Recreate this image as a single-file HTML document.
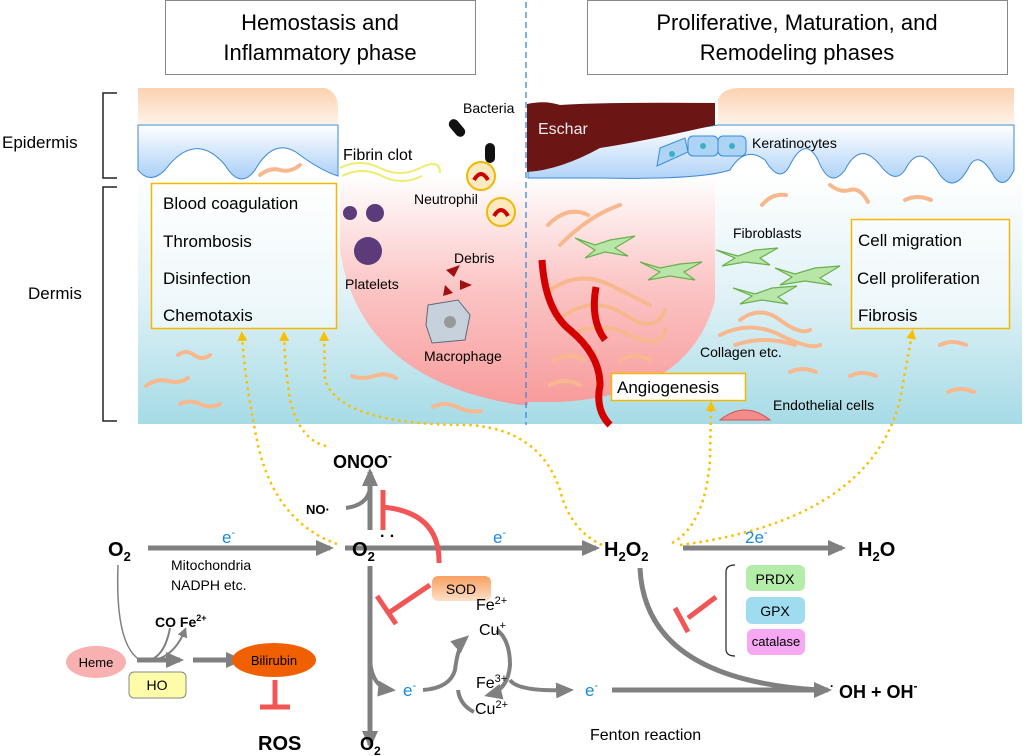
<!DOCTYPE html>
<html><head><meta charset="utf-8"><style>
html,body{margin:0;padding:0;background:#fff;}
svg{display:block;font-family:"Liberation Sans",sans-serif;}
</style></head><body>
<svg width="1024" height="756" viewBox="0 0 1024 756" xmlns="http://www.w3.org/2000/svg">
<defs>
<linearGradient id="derm" x1="0" y1="0" x2="0" y2="1"><stop offset="0" stop-color="#ffffff"/><stop offset="0.5" stop-color="#dff1f6"/><stop offset="1" stop-color="#a6dbe6"/></linearGradient>
<linearGradient id="epi" x1="0" y1="0" x2="0" y2="1"><stop offset="0" stop-color="#ffffff"/><stop offset="1" stop-color="#a9cff7"/></linearGradient>
<linearGradient id="cor" x1="0" y1="0" x2="0" y2="1"><stop offset="0" stop-color="#fbd2b0"/><stop offset="1" stop-color="#fff2e8"/></linearGradient>
<linearGradient id="wound" x1="0" y1="0" x2="0" y2="1"><stop offset="0" stop-color="#ffffff"/><stop offset="0.5" stop-color="#fbc4c4"/><stop offset="1" stop-color="#f89c9c"/></linearGradient>
<linearGradient id="sod" x1="0" y1="0" x2="0" y2="1"><stop offset="0" stop-color="#f7a060"/><stop offset="1" stop-color="#fde0c8"/></linearGradient>
<marker id="ga" markerWidth="10" markerHeight="10" refX="7" refY="5" orient="auto" markerUnits="userSpaceOnUse"><path d="M0,0 L10,5 L0,10 z" fill="#808080"/></marker>
<marker id="gb" markerWidth="18" markerHeight="18" refX="14" refY="9" orient="auto" markerUnits="userSpaceOnUse"><path d="M0,1 L18,9 L0,17 z" fill="#808080"/></marker>
<marker id="ya" markerWidth="10" markerHeight="10" refX="5" refY="5" orient="auto" markerUnits="userSpaceOnUse"><path d="M0,0 L10,5 L0,10 z" fill="#f9c000"/></marker>
</defs>

<rect x="165.5" y="0.5" width="310" height="74" fill="#fff" stroke="#888"/>
<text x="320" y="30" font-size="22" text-anchor="middle">Hemostasis and</text>
<text x="320" y="60" font-size="22" text-anchor="middle">Inflammatory phase</text>
<rect x="587.5" y="0.5" width="420" height="74" fill="#fff" stroke="#888"/>
<text x="797" y="30" font-size="22" text-anchor="middle">Proliferative, Maturation, and</text>
<text x="797" y="60" font-size="22" text-anchor="middle">Remodeling phases</text>

<rect x="138" y="175" width="884" height="249" fill="url(#derm)"/>
<path d="M340,175 L340,250 Q360,380 520,405 L528,405 L528,175 Z" fill="url(#wound)"/>
<path d="M528,175 L715,175 L715,300 Q690,395 560,402 L528,402 Z" fill="url(#wound)"/>
<path d="M138,88 L325,88 Q338,92 338,108 L338,124 L138,124 Z" fill="url(#cor)"/>
<path d="M718,124 L718,100 Q722,88 740,88 L1014,88 L1014,124 Z" fill="url(#cor)"/>
<path d="M138,125 L338,125 L338,176 Q320,170 300,155 Q275,135 255,170 Q240,190 225,165 Q195,130 165,170 Q150,185 138,170 Z" fill="url(#epi)" stroke="#3a8ad8" stroke-width="1"/>
<path d="M718,125 L1014,125 L1014,170 Q1005,190 995,178 Q980,150 970,165 Q955,195 940,175 Q920,140 905,170 Q895,185 880,165 Q860,140 845,170 Q830,190 818,160 Q805,135 790,165 Q780,185 765,160 Q745,145 730,170 Q700,180 600,178 L528,178 L528,150 Q600,150 650,135 Z" fill="url(#epi)" stroke="#3a8ad8" stroke-width="1"/>
<path d="M527,104 Q545,100 560,105 Q600,102 715,103 L715,125 Q650,140 600,148 Q560,170 527,172 Z" fill="#6b1515"/>
<text x="538" y="134" font-size="16" fill="#ececec">Eschar</text>
<g fill="#aed4f5" stroke="#3a8ad8" stroke-width="1">
<path d="M660,148 L685,138 L688,152 L657,166 Z"/><rect x="688" y="136" width="30" height="20" rx="5"/><rect x="718" y="136" width="28" height="20" rx="5"/>
</g>
<g fill="#3ab0c0"><circle cx="672" cy="154" r="3"/><circle cx="703" cy="146" r="3"/><circle cx="732" cy="146" r="3"/></g>
<text x="752" y="148" font-size="14">Keratinocytes</text>

<line x1="526" y1="2" x2="526" y2="425" stroke="#3a8ad8" stroke-width="1.3" stroke-dasharray="6,4"/>

<path d="M117,93 L103,93 L103,178 L117,178" fill="none" stroke="#222" stroke-width="1.5"/>
<path d="M117,187 L103,187 L103,421 L117,421" fill="none" stroke="#222" stroke-width="1.5"/>
<text x="2" y="148" font-size="17">Epidermis</text>
<text x="28" y="299" font-size="17">Dermis</text>

<g fill="none" stroke="#f7b88e" stroke-width="4" stroke-linecap="round">
<path d="M260,175 q10,-8 20,-5 t20,-5"/>
<path d="M178,355 q8,-6 16,0 t16,0"/><path d="M146,386 q10,-8 22,-5 t20,-3"/><path d="M180,404 q10,-5 20,0 t20,0"/>
<path d="M352,376 q10,4 22,0 t22,2"/><path d="M433,407 q12,-6 24,0 t24,4"/>
<path d="M762,205 q10,-12 24,-10"/><path d="M830,185 q10,8 20,5 t18,12"/><path d="M905,200 q12,-6 26,0"/>
<path d="M940,345 q12,-6 26,0"/><path d="M948,392 q12,-6 26,0"/><path d="M790,372 q12,-6 26,0"/><path d="M850,376 q12,-6 26,0"/>
<path d="M740,320 q20,-15 40,0 t30,10"/><path d="M720,335 q30,-15 60,0 t40,10"/><path d="M735,345 q30,-10 60,0"/>
<path d="M548,225 q20,-20 40,-10"/><path d="M560,245 q30,-30 60,-40"/><path d="M550,290 q30,-20 60,-5 t40,20"/>
<path d="M565,315 q30,-20 60,0 t40,-5"/><path d="M570,335 q30,-15 60,0 t35,-5"/><path d="M554,360 q15,-8 30,0"/><path d="M550,385 q15,-8 30,0"/><path d="M620,360 q15,-8 30,0"/>
</g>
<g fill="#b8e6a8" stroke="#6ab04c" stroke-width="1.2">
<path d="M575,238 L595,245 L610,240 L635,236 L615,248 L628,256 L605,252 L585,258 L595,250 Z"/>
<path d="M640,262 L660,268 L680,264 L702,262 L684,272 L695,280 L670,276 L648,280 L660,272 Z"/>
<path d="M716,250 L738,256 L755,250 L778,248 L760,258 L770,265 L745,262 L722,266 L735,258 Z"/>
<path d="M775,268 L795,274 L815,268 L840,266 L820,278 L832,285 L805,281 L780,285 L792,277 Z"/>
<path d="M733,288 L755,294 L772,288 L797,286 L778,297 L788,304 L762,300 L740,304 L752,296 Z"/>
</g>
<text x="733" y="238" font-size="14">Fibroblasts</text>
<text x="700" y="357" font-size="14">Collagen etc.</text>
<path d="M542,260 Q545,310 570,330 Q600,355 600,385 Q595,410 610,425" fill="none" stroke="#d40000" stroke-width="7"/>
<path d="M596,287 Q590,320 605,340" fill="none" stroke="#d40000" stroke-width="7"/>
<path d="M720,420 Q745,400 770,420 Z" fill="#f48c8c" stroke="#d85050"/>
<text x="773" y="410" font-size="14">Endothelial cells</text>

<path d="M340,168 q20,-10 40,0 t40,0 t20,5 M342,176 q20,-10 40,0 t40,0" fill="none" stroke="#f0ec70" stroke-width="2"/>
<text x="343" y="160" font-size="16">Fibrin clot</text>
<g fill="#5b3b7a"><circle cx="350" cy="213" r="7"/><circle cx="375" cy="213" r="9"/><circle cx="368" cy="251" r="14"/></g>
<text x="345" y="289" font-size="14">Platelets</text>
<g fill="#111"><rect x="452" y="118" width="10" height="20" rx="5" transform="rotate(-40 457 128)"/><rect x="485" y="143" width="10" height="20" rx="5"/></g>
<text x="463" y="113" font-size="14">Bacteria</text>
<circle cx="481" cy="176" r="14" fill="#fde9c0" stroke="#f0b800" stroke-width="2"/><path d="M474,180 q7,-12 14,0" stroke="#c00" stroke-width="4" fill="none"/>
<circle cx="501" cy="212" r="14" fill="#fde9c0" stroke="#f0b800" stroke-width="2"/><path d="M494,216 q7,-12 14,0" stroke="#c00" stroke-width="4" fill="none"/>
<text x="414" y="204" font-size="14">Neutrophil</text>
<text x="454" y="263" font-size="14">Debris</text>
<g fill="#a01010"><path d="M446,270 l14,-5 l-6,12z"/><path d="M460,280 l12,5 l-12,5z"/><path d="M445,285 l8,8 l-10,3z"/></g>
<path d="M428,305 L458,300 L470,315 L465,340 L432,343 L426,325 Z" fill="#c6d1dc" stroke="#5a6a7a"/><circle cx="450" cy="322" r="6" fill="#999"/>
<text x="424" y="361" font-size="14">Macrophage</text>

<rect x="151.5" y="183.5" width="185" height="145" fill="rgba(255,255,255,0.5)" stroke="#f5b800" stroke-width="1.5"/>
<g font-size="17"><text x="163" y="209">Blood coagulation</text><text x="163" y="247">Thrombosis</text><text x="163" y="284">Disinfection</text><text x="163" y="321">Chemotaxis</text></g>
<rect x="851.5" y="219.5" width="158" height="109" fill="rgba(255,255,255,0.5)" stroke="#f5b800" stroke-width="1.5"/>
<g font-size="17"><text x="858" y="246">Cell migration</text><text x="857" y="284">Cell proliferation</text><text x="858" y="321">Fibrosis</text></g>
<rect x="611.5" y="373.5" width="134" height="27" fill="#fff" stroke="#f5b800" stroke-width="1.5"/>
<text x="617" y="393" font-size="17">Angiogenesis</text>

<g fill="none" stroke="#f9c000" stroke-width="2.5" stroke-dasharray="2.5,4" marker-end="url(#ya)">
<path d="M337,544 Q270,520 255,430 Q245,380 242,336"/>
<path d="M326,446 Q300,440 290,400 Q285,365 284,336"/>
<path d="M602,545 Q570,530 560,490 Q540,430 470,425 Q340,425 325,380 L324,336"/>
<path d="M672,543 Q705,525 710,460 L711,406"/>
<path d="M680,545 Q870,520 900,400 L912,334"/>
</g>

<g fill="none" stroke="#808080" stroke-width="5">
<line x1="148" y1="548" x2="330" y2="548" marker-end="url(#gb)"/>
<line x1="345" y1="548" x2="596" y2="548" marker-end="url(#gb)"/>
<line x1="683" y1="548" x2="842" y2="548" marker-end="url(#gb)"/>
<line x1="370" y1="530" x2="370" y2="472" marker-end="url(#gb)"/>
<path d="M346,508 Q368,505 370,488" stroke-width="4"/>
<line x1="370" y1="566" x2="370" y2="745" marker-end="url(#gb)"/>
<path d="M370,660 Q372,688 392,690" stroke-width="4" marker-end="url(#gb)"/>
<path d="M423,690 Q450,688 455,670 Q458,645 466,638" stroke-width="4" marker-end="url(#gb)"/>
<path d="M497,630 Q510,640 510,665 Q508,690 488,695" stroke-width="4" marker-end="url(#gb)"/>
<path d="M474,712 Q460,705 458,690" stroke-width="4"/>
<path d="M510,680 Q518,692 570,690" stroke-width="4" marker-end="url(#gb)"/>
<line x1="612" y1="690" x2="828" y2="690" marker-end="url(#gb)"/>
<path d="M640,568 Q645,680 820,690" stroke-width="5"/>
<line x1="137" y1="660" x2="180" y2="660" marker-end="url(#gb)"/>
<line x1="193" y1="660" x2="240" y2="660" marker-end="url(#gb)"/>
</g>
<path d="M118,565 Q115,645 140,660" fill="none" stroke="#808080" stroke-width="1.5"/>
<path d="M150,660 Q165,655 170,628 M155,660 Q175,655 185,630" fill="none" stroke="#808080" stroke-width="2" marker-end="url(#ga)"/>

<g fill="none" stroke="#f25555" stroke-width="5">
<path d="M439,563 Q440,512 382,507"/><line x1="383" y1="490" x2="383" y2="530"/>
<line x1="430" y1="585" x2="390" y2="612"/><line x1="377" y1="596" x2="396" y2="624"/>
<line x1="716" y1="597" x2="688" y2="618"/><line x1="675" y1="608" x2="688" y2="632"/>
<line x1="275" y1="680" x2="275" y2="706"/><line x1="260" y1="707" x2="290" y2="707"/>
</g>

<path d="M735,565 Q726,565 726,572 L726,649 Q726,656 735,656" fill="none" stroke="#222" stroke-width="1.2"/>
<rect x="746" y="565" width="59" height="26" rx="6" fill="#b4ecaa"/><text x="775" y="584" font-size="14" text-anchor="middle">PRDX</text>
<rect x="746" y="597" width="59" height="27" rx="6" fill="#9fdcf0"/><text x="775" y="616" font-size="14" text-anchor="middle">GPX</text>
<rect x="747" y="629" width="58" height="26" rx="6" fill="#f6a8f2"/><text x="776" y="646" font-size="13" text-anchor="middle">catalase</text>

<rect x="432" y="576" width="59" height="25" rx="6" fill="url(#sod)"/><text x="461" y="594" font-size="14" text-anchor="middle">SOD</text>
<ellipse cx="96" cy="662" rx="30" ry="16" fill="#f8b0b0"/><text x="96" y="667" font-size="13" text-anchor="middle">Heme</text>
<rect x="129" y="672" width="57" height="26" rx="5" fill="#fdfca8" stroke="#888"/><text x="157" y="690" font-size="14" text-anchor="middle">HO</text>
<ellipse cx="274" cy="660" rx="42" ry="17" fill="#f06000"/><text x="274" y="665" font-size="13" text-anchor="middle">Bilirubin</text>

<g font-weight="bold" font-size="20">
<text x="108" y="556">O<tspan font-size="13" dy="5">2</tspan></text>
<text x="352" y="556">O<tspan font-size="13" dy="5">2</tspan></text>
<text x="380" y="541" font-size="16">· ·</text>
<text x="604" y="556">H<tspan font-size="13" dy="5">2</tspan><tspan dy="-5">O</tspan><tspan font-size="13" dy="5">2</tspan></text>
<text x="858" y="556">H<tspan font-size="13" dy="5">2</tspan><tspan dy="-5">O</tspan></text>
<text x="333" y="468" font-size="18">ONOO<tspan font-size="12" dy="-8">-</tspan></text>
<text x="360" y="750" font-size="18">O<tspan font-size="12" dy="5">2</tspan></text>
<text x="258" y="750">ROS</text>
<text x="830" y="698" font-size="18"><tspan font-size="12" dy="-8">·</tspan><tspan dy="8"> OH + OH</tspan><tspan font-size="12" dy="-8">-</tspan></text>
</g>
<text x="306" y="514" font-size="13" font-weight="bold">NO·</text>
<text x="155" y="627" font-size="14" font-weight="bold">CO Fe<tspan font-size="9" dy="-6">2+</tspan></text>
<g fill="#1a8ad8" font-size="17">
<text x="222" y="543">e<tspan font-size="11" dy="-7">-</tspan></text>
<text x="493" y="543">e<tspan font-size="11" dy="-7">-</tspan></text>
<text x="745" y="543">2e<tspan font-size="11" dy="-7">-</tspan></text>
<text x="403" y="696">e<tspan font-size="11" dy="-7">-</tspan></text>
<text x="585" y="696">e<tspan font-size="11" dy="-7">-</tspan></text>
</g>
<text x="171" y="570" font-size="14">Mitochondria</text>
<text x="171" y="590" font-size="14">NADPH etc.</text>
<g font-size="16">
<text x="476" y="610">Fe<tspan font-size="11" dy="-6">2+</tspan></text>
<text x="479" y="635">Cu<tspan font-size="11" dy="-6">+</tspan></text>
<text x="476" y="688">Fe<tspan font-size="11" dy="-6">3+</tspan></text>
<text x="475" y="714">Cu<tspan font-size="11" dy="-6">2+</tspan></text>
</g>
<text x="590" y="740" font-size="16">Fenton reaction</text>
</svg>
</body></html>
